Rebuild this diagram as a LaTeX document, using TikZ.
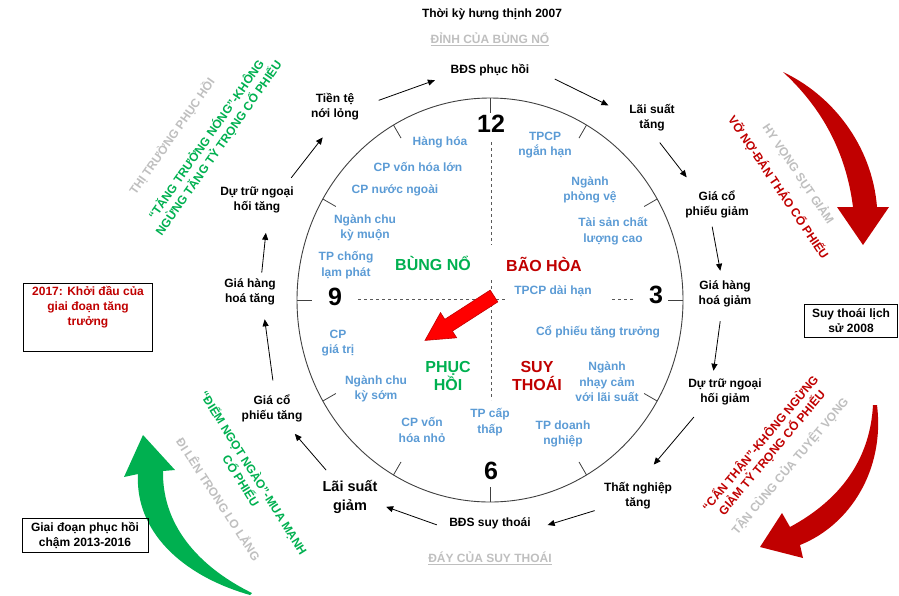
\documentclass[tikz,border=0pt]{standalone}
\usepackage{fontspec}
\setmainfont{Liberation Sans}
\usepackage{xcolor}
\usetikzlibrary{arrows.meta}

\definecolor{sectorblue}{RGB}{91,155,213}
\definecolor{boomgreen}{RGB}{0,176,80}
\definecolor{bustred}{RGB}{192,0,0}
\definecolor{moodgray}{RGB}{191,191,191}
\definecolor{handred}{RGB}{255,0,0}

\begin{document}
\begin{tikzpicture}[x=1pt, y=-1pt,
    cyc/.style={font=\fontsize{12}{15}\selectfont\bfseries, align=center, inner sep=1pt},
    sector/.style={font=\fontsize{12}{15.5}\selectfont\bfseries, text=sectorblue, align=center, inner sep=1pt},
    phase/.style={font=\fontsize{16}{18}\selectfont\bfseries, align=center, inner sep=1pt},
    hour/.style={font=\fontsize{25}{25}\selectfont\bfseries, inner sep=0pt},
    flow/.style={-{Triangle[length=7pt,width=6pt]}, line width=0.8pt},
    mood/.style={font=\fontsize{12}{15}\selectfont\bfseries, align=center, inner sep=0pt},
    note/.style={draw, line width=0.8pt, inner sep=2pt, align=center, font=\fontsize{12}{15}\selectfont\bfseries},
    guide/.style={dash pattern=on 3pt off 3pt, line width=0.9pt, black!65}]
        \useasboundingbox (0,0) rectangle (899,595);

        % Big sweeping arrows
        \fill[bustred] (783,72) .. controls (832,95) and (872,145) .. (877,207) -- (889,207) -- (863,245) -- (837,207) -- (853,207) .. controls (846,152) and (822,108) .. (783,72) -- cycle;
        \fill[bustred] (877,405) .. controls (885,470) and (850,525) .. (800,545) -- (803,558) -- (760,547) -- (782,513) -- (790,527) .. controls (840,500) and (870,460) .. (873,405) -- cycle;
        \fill[boomgreen] (250,595) .. controls (180,575) and (135,530) .. (138,474) -- (124,477) -- (143,435) -- (175,470) -- (163,471) .. controls (162,530) and (205,570) .. (252,593) -- cycle;

        % Clock face
        \draw[line width=0.9pt, black!75] (490,300) ellipse [x radius=193pt, y radius=202pt];
        \foreach \a in {0,30,...,330}
            \draw[line width=0.8pt, black!75] ({490+193*cos(\a)},{300-202*sin(\a)}) -- ({490+178*cos(\a)},{300-187*sin(\a)});
        \draw[guide] (491,142) -- (491,245);
        \draw[guide] (491,280) -- (491,400);
        \draw[guide] (358,299) -- (505,299);
        \draw[guide] (612,299) -- (634,299);

        \node[hour] (h12) at (491,124) {12};
        \node[hour] (h3) at (656,295) {3};
        \node[hour] (h6) at (491,471) {6};
        \node[hour] (h9) at (335,297) {9};

        % Phases
        \node[phase, text=boomgreen] (boom) at (433,263) {BÙNG NỔ};
        \node[phase, text=bustred] (satur) at (544,264) {BÃO HÒA};
        \node[phase, text=boomgreen] (recov) at (448,376) {PHỤC\\HỒI};
        \node[phase, text=bustred] (slump) at (537,376) {SUY\\THOÁI};

        % Sectors
        \node[sector] (commod) at (440,142) {Hàng hóa};
        \node[sector] (largecap) at (418,167) {CP vốn hóa lớn};
        \node[sector] (foreign) at (395,190) {CP nước ngoài};
        \node[sector] (latecyc) at (365,228) {Ngành chu\\kỳ muộn};
        \node[sector] (tips) at (346,265) {TP chống\\lạm phát};
        \node[sector] (shortgov) at (545,145) {TPCP\\ngắn hạn};
        \node[sector] (defens) at (590,190) {Ngành\\phòng vệ};
        \node[sector] (quality) at (613,231) {Tài sản chất\\lượng cao};
        \node[sector] (longgov) at (553,291) {TPCP dài hạn};
        \node[sector] (growth) at (598,332) {Cổ phiếu tăng trưởng};
        \node[sector] (ratesens) at (607,382) {Ngành\\nhạy cảm\\với lãi suất};
        \node[sector] (corpbond) at (563,434) {TP doanh\\nghiệp};
        \node[sector] (junk) at (490,422) {TP cấp\\thấp};
        \node[sector] (smallcap) at (422,430) {CP vốn\\hóa nhỏ};
        \node[sector] (earlycyc) at (376,389) {Ngành chu\\kỳ sớm};
        \node[sector] (value) at (338,343) {CP\\giá trị};

        % Hand
        \filldraw[fill=handred, draw=bustred, line width=0.6pt] (490.2,290.1) -- (497.8,301.9) -- (452.4,331.1) -- (456.7,337.8) -- (425,340.4) -- (440.5,312.6) -- (444.8,319.3) -- cycle;

        % Cycle
        \node[cyc] (era) at (492,14) {Thời kỳ hưng thịnh 2007};
        \node[cyc, text=moodgray] (peak) at (490,39) {\underline{ĐỈNH CỦA BÙNG NỔ}};
        \node[cyc, text=moodgray] (trough) at (490,558) {\underline{ĐÁY CỦA SUY THOÁI}};

        \node[cyc] (bdsUp) at (490,70) {BĐS phục hồi};
        \node[cyc] (rateUp) at (652,118) {Lãi suất\\tăng};
        \node[cyc] (stockDown) at (717,204) {Giá cổ\\phiếu giảm};
        \node[cyc] (commodDown) at (725,294) {Giá hàng\\hoá giảm};
        \node[cyc] (fxDown) at (725,392) {Dự trữ ngoại\\hối giảm};
        \node[cyc] (jobless) at (638,496) {Thất nghiệp\\tăng};
        \node[cyc] (bdsDown) at (490,523) {BĐS suy thoái};
        \node[cyc, font=\fontsize{14.5}{19}\selectfont\bfseries] (rateDown) at (350,497) {Lãi suất\\giảm};
        \node[cyc] (stockUp) at (272,408) {Giá cổ\\phiếu tăng};
        \node[cyc] (commodUp) at (250,292) {Giá hàng\\hoá tăng};
        \node[cyc] (fxUp) at (257,200) {Dự trữ ngoại\\hối tăng};
        \node[cyc] (easing) at (335,107) {Tiền tệ\\nới lỏng};

        \draw[flow, shorten <=19.7pt, shorten >=15.5pt] (easing.east) -- (bdsUp.187);
        \draw[flow, shorten <=27pt, shorten >=22pt] (bdsUp.4) -- (rateUp.173);
        \draw[flow, shorten <=12.7pt, shorten >=15pt] (rateUp.south) -- (stockDown.145);
        \draw[flow, shorten <=8pt, shorten >=9pt] (stockDown.-113) -- (commodDown.102);
        \draw[flow, shorten <=13pt, shorten >=7pt] (commodDown.-102) -- (fxDown.131);
        \draw[flow, shorten <=14pt, shorten >=22pt] (fxDown.213) -- (jobless.84);
        \draw[flow, shorten <=8.5pt, shorten >=16.5pt] (jobless.199) -- (bdsDown.south east);
        \draw[flow, shorten <=12pt, shorten >=8pt] (bdsDown.188) -- (rateDown.-14);
        \draw[flow, shorten <=12pt, shorten >=14.5pt] (rateDown.132) -- (stockUp.-48);
        \draw[flow, shorten <=13pt, shorten >=13pt] (stockUp.80) -- (commodUp.-48);
        \draw[flow, shorten <=5pt, shorten >=18.6pt] (commodUp.52) -- (fxUp.-53);
        \draw[flow, shorten <=10pt, shorten >=20pt] (fxUp.27) -- (easing.south);

        % Market moods
        \node[mood, text=moodgray, rotate=55] (rebound) at (172,136.5) {THỊ TRƯỜNG PHỤC HỒI};
        \node[mood, text=boomgreen, rotate=55] (hotgrowth) at (212.5,143.8) {“TĂNG TRƯỞNG NÓNG”-KHÔNG\\NGỪNG TĂNG TỶ TRỌNG CỔ PHIẾU};
        \node[mood, text=bustred, rotate=-56] (selloff) at (778.5,187.5) {VỠ NỢ-BÁN THÁO CỔ PHIẾU};
        \node[mood, text=moodgray, rotate=-56] (hopefall) at (798.5,174) {HY VỌNG SỤT GIẢM};
        \node[mood, text=bustred, rotate=50] (caution) at (766,448) {“CẨN THẬN”-KHÔNG NGỪNG\\GIẢM TỶ TRỌNG CỔ PHIẾU};
        \node[mood, text=moodgray, rotate=50] (despair) at (790,466) {TẬN CÙNG CỦA TUYỆT VỌNG};
        \node[mood, text=boomgreen, rotate=-58] (sweetspot) at (248,476.5) {“ĐIỂM NGỌT NGÀO”-MUA MẠNH\\CỔ PHIẾU};
        \node[mood, text=moodgray, rotate=-57] (worry) at (219,499) {ĐI LÊN TRONG LO LẮNG};

        % Notes
        \node[draw, line width=0.8pt, minimum width=129pt, minimum height=68pt] (start2017) at (87.5,317) {};
        \node[cyc, text=bustred] (start2017text) at (88,307) {2017: Khởi đầu của\\giai đoạn tăng\\trưởng};
        \node[note, minimum width=93pt, minimum height=33pt] (crisis2008) at (851,320.5) {Suy thoái lịch\\sử 2008};
        \node[note, minimum width=126pt, minimum height=34pt] (slow1316) at (85,535) {Giai đoạn phục hồi\\chậm 2013-2016};
\end{tikzpicture}
\end{document}
